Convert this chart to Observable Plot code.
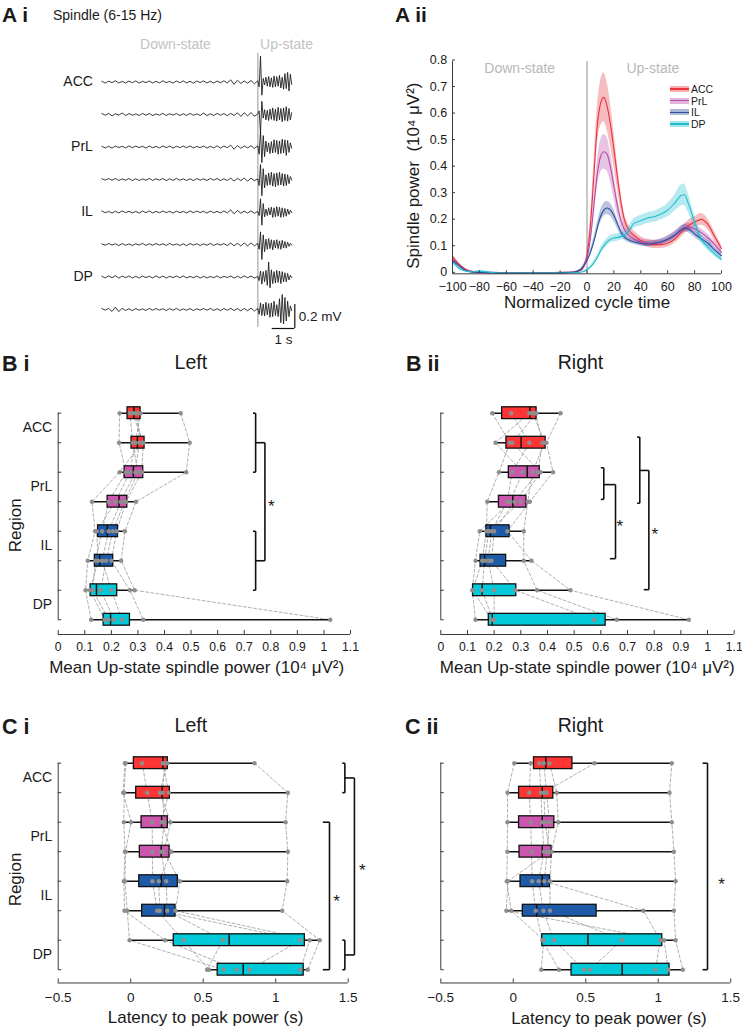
<!DOCTYPE html>
<html><head><meta charset="utf-8">
<script src="https://cdn.jsdelivr.net/npm/d3@7"></script>
<script src="https://cdn.jsdelivr.net/npm/@observablehq/plot@0.6"></script>
<style>
html,body{margin:0;padding:0;background:#fff;}
#fig{position:relative;width:742px;height:1030px;overflow:hidden;font-family:"Liberation Sans",Arial,sans-serif;color:#1a1a1a;}
.abs{position:absolute;white-space:nowrap;line-height:1;}
</style></head><body><div id="fig"></div>
<script>
// ================= DATA =================
// ---- A i: example spindle-band traces (µV), down-state then up-state samples ----
const traceRegions = ["ACC","ACC","PrL","PrL","IL","IL","DP","DP"];
const downStart = -6.9, downStep = 0.15, upStep = 0.06; // seconds
const down1 = [6,-9,7,-5,10,-8,5,-9,8,-6,9,-10,6,-5,8,-9,6,-8,10,-6,5,-9,8,-6,9,-8,6,-10,8,-5,9,-8,6,-9,8,-6,10,-8,18,-20,15,-12,9,-10,12,-15];
const down2 = [8,-6,9,-12,6,-5,13,-9,8,-6,5,-8,9,-6,8,-9,5,-6,9,-8,6,-5,8,-9,6,-8,9,-6,5,-8,12,-9,6,-8,9,-6,8,-10,9,-8,14,-16,15,-12,17,-14];
const down3 = [5,-8,6,-9,8,-5,6,-8,9,-6,8,-5,6,-9,8,-6,5,-8,9,-6,8,-9,6,-5,8,-6,9,-8,5,-6,8,-9,6,-8,10,-9,8,-6,16,-18,12,-11,9,-8,11,-12];
const down4 = [6,-5,8,-6,9,-8,5,-6,8,-9,6,-8,5,-6,9,-8,6,-5,8,-9,6,-8,9,-6,5,-8,6,-9,8,-6,5,-8,9,-6,8,-9,6,-8,11,-13,10,-9,12,-14,11,-10];
const down5 = [8,-6,5,-9,6,-8,9,-5,6,-8,5,-9,8,-6,9,-8,5,-6,8,-5,6,-9,8,-6,5,-8,9,-6,8,-5,6,-9,8,-6,5,-8,9,-8,18,-16,13,-11,8,-9,10,-11];
const down6 = [5,-6,8,-5,6,-9,8,-6,5,-8,6,-5,9,-8,6,-6,8,-5,6,-8,9,-6,5,-8,6,-9,8,-5,6,-8,5,-6,9,-8,6,-5,8,-9,12,-11,10,-12,13,-11,14,-12];
const down7 = [6,-8,9,-6,11,-10,8,-6,9,-8,6,-9,8,-5,6,-8,9,-6,8,-9,6,-5,8,-6,9,-8,5,-6,8,-9,6,-8,5,-6,9,-8,6,-5,8,-9,6,-8,9,-6,8,-9];
const down8 = [8,-6,9,-16,20,-18,11,-8,6,-9,8,-6,5,-8,9,-6,8,-5,6,-9,8,-6,9,-8,5,-6,8,-9,6,-5,8,-6,9,-8,6,-9,8,-6,10,-9,8,-11,9,-10,12,-13];
const up1 = [10,-40,215,-110,30,-25,40,-35,45,-40,35,-45,50,-40,45,-35,55,-50,40,-60,70,-55,80,-75,65,-20];
const up2 = [5,30,-150,110,-30,40,-45,35,-50,45,-40,55,-50,45,-55,60,-45,50,-60,55,-50,65,-55,50,-45,15];
const up3 = [10,-60,140,-130,95,-80,50,-40,35,-55,45,-50,60,-45,55,-60,50,-55,65,-50,60,-70,55,-45,35,-10];
const up4 = [5,-50,125,-135,90,-70,40,-50,55,-45,60,-55,50,-60,55,-50,60,-45,50,-55,45,-50,40,-35,25,-5];
const up5 = [5,-30,110,-110,70,-40,25,-30,35,-25,40,-45,35,-40,45,-35,40,-45,35,-40,30,-35,25,-20,15,-5];
const up6 = [10,-40,105,-125,80,-60,45,-40,50,-35,40,-45,35,-30,40,-35,30,-40,35,-30,25,-30,20,-15,10,-5];
const up7 = [5,-30,50,-60,45,-40,55,-70,125,-90,60,-55,45,-50,55,-45,50,-55,45,-40,35,-40,30,-25,15,-5];
const up8 = [10,-40,55,-50,45,-55,60,-45,50,-65,55,-60,70,-50,40,-60,90,-110,125,-120,100,-95,70,-60,30,-10];
const downTraces = [down1,down2,down3,down4,down5,down6,down7,down8];
const upTraces = [up1,up2,up3,up4,up5,up6,up7,up8];
const scaleBar = {seconds: 1, microvolts: 200};

// ---- A ii: spindle power across normalized cycle (10^4 µV^2), mean ± SEM ----
const cycleX = [-100,-95,-90,-85,-80,-70,-60,-50,-40,-30,-20,-10,-5,-2.5,0,2.5,5,7.5,10,12.5,15,17.5,20,22.5,25,27.5,30,35,40,45,50,55,60,65,70,72.5,75,80,85,90,95,100];
const accMean = [0.065,0.035,0.016,0.008,0.005,0.004,0.003,0.003,0.003,0.003,0.004,0.006,0.012,0.025,0.07,0.18,0.36,0.55,0.64,0.665,0.63,0.56,0.47,0.37,0.28,0.21,0.175,0.145,0.125,0.115,0.11,0.11,0.115,0.13,0.155,0.168,0.18,0.195,0.205,0.185,0.14,0.095];
const accSem  = [0.008,0.006,0.004,0.002,0.002,0.002,0.002,0.002,0.002,0.002,0.002,0.002,0.003,0.005,0.012,0.03,0.05,0.07,0.085,0.092,0.09,0.08,0.065,0.05,0.035,0.025,0.02,0.017,0.015,0.015,0.015,0.015,0.015,0.016,0.018,0.018,0.02,0.02,0.022,0.02,0.017,0.012];
const prlMean = [0.055,0.03,0.013,0.006,0.005,0.004,0.003,0.003,0.003,0.003,0.004,0.006,0.014,0.028,0.06,0.13,0.25,0.37,0.44,0.46,0.45,0.4,0.33,0.26,0.205,0.17,0.15,0.13,0.12,0.115,0.115,0.12,0.13,0.145,0.165,0.172,0.175,0.17,0.155,0.135,0.11,0.08];
const prlSem  = [0.006,0.005,0.003,0.002,0.002,0.002,0.002,0.002,0.002,0.002,0.002,0.002,0.003,0.005,0.01,0.02,0.035,0.05,0.06,0.065,0.063,0.055,0.045,0.035,0.025,0.02,0.015,0.013,0.012,0.012,0.012,0.012,0.013,0.014,0.015,0.016,0.016,0.016,0.015,0.014,0.012,0.01];
const ilMean  = [0.05,0.03,0.012,0.006,0.005,0.004,0.003,0.003,0.003,0.003,0.004,0.006,0.015,0.03,0.05,0.08,0.12,0.17,0.215,0.24,0.248,0.24,0.22,0.19,0.16,0.14,0.13,0.12,0.115,0.112,0.115,0.12,0.13,0.145,0.165,0.172,0.17,0.15,0.132,0.115,0.09,0.068];
const ilSem   = [0.006,0.005,0.003,0.002,0.002,0.002,0.002,0.002,0.002,0.002,0.002,0.002,0.003,0.005,0.008,0.012,0.015,0.02,0.023,0.025,0.025,0.024,0.022,0.018,0.015,0.012,0.01,0.01,0.01,0.01,0.01,0.01,0.011,0.012,0.013,0.014,0.014,0.013,0.012,0.011,0.01,0.008];
const dpMean  = [0.045,0.02,0.01,0.007,0.01,0.005,0.003,0.003,0.003,0.003,0.003,0.004,0.006,0.009,0.015,0.025,0.04,0.06,0.085,0.105,0.12,0.13,0.135,0.137,0.14,0.145,0.155,0.19,0.2,0.21,0.215,0.225,0.24,0.265,0.295,0.298,0.27,0.195,0.13,0.1,0.075,0.055];
const dpSem   = [0.005,0.004,0.003,0.003,0.003,0.002,0.002,0.002,0.002,0.002,0.002,0.002,0.002,0.003,0.004,0.006,0.008,0.01,0.012,0.013,0.014,0.014,0.014,0.014,0.014,0.015,0.016,0.018,0.02,0.02,0.021,0.022,0.025,0.03,0.04,0.04,0.035,0.025,0.015,0.012,0.01,0.008];
const xTicksA = [-100,-80,-60,-40,-20,0,20,40,60,80,100];
const yTicksA = [0,0.1,0.2,0.3,0.4,0.5,0.6,0.7,0.8];

// ---- B / C: rows (two recording sites per region), box stats [min,q1,median,q3,max] ----
const rowRegions = ["ACC","ACC","PrL","PrL","IL","IL","DP","DP"];
const boxBi  = [[0.231,0.261,0.285,0.310,0.461],[0.229,0.276,0.298,0.325,0.495],[0.231,0.250,0.283,0.320,0.482],[0.127,0.186,0.229,0.260,0.293],[0.139,0.150,0.185,0.225,0.251],[0.111,0.138,0.156,0.207,0.237],[0.103,0.122,0.144,0.222,0.288],[0.124,0.171,0.197,0.270,1.024]];
const boxBii = [[0.193,0.230,0.334,0.359,0.449],[0.205,0.246,0.301,0.393,0.396],[0.218,0.255,0.324,0.371,0.421],[0.174,0.218,0.270,0.321,0.334],[0.146,0.171,0.186,0.258,0.311],[0.130,0.149,0.164,0.245,0.340],[0.118,0.121,0.155,0.283,0.486],[0.130,0.180,0.193,0.618,0.930]];
const boxCi  = [[-0.040,0.022,0.222,0.256,0.854],[-0.052,0.038,0.217,0.270,1.084],[-0.047,0.075,0.213,0.256,1.068],[-0.040,0.063,0.210,0.268,1.084],[-0.047,0.059,0.210,0.325,1.079],[-0.043,0.079,0.233,0.309,1.045],[-0.008,0.297,0.679,1.201,1.304],[0.527,0.600,0.776,1.193,1.221]];
const boxCii = [[0.007,0.143,0.224,0.408,1.094],[-0.040,0.040,0.200,0.276,1.078],[-0.040,0.040,0.200,0.283,1.094],[-0.041,0.043,0.200,0.264,1.108],[-0.037,0.050,0.200,0.253,1.120],[-0.048,0.066,0.161,0.575,1.108],[0.200,0.200,0.515,1.028,1.120],[0.193,0.402,0.751,1.078,1.170]];
// individual animals (same animal = same column)
const animBi  = [[0.231,0.29,0.27,0.31,0.28,0.30,0.461],[0.229,0.315,0.28,0.29,0.32,0.305,0.495],[0.255,0.231,0.30,0.27,0.315,0.29,0.482],[0.19,0.127,0.25,0.215,0.255,0.235,0.293],[0.165,0.139,0.205,0.145,0.22,0.19,0.251],[0.14,0.111,0.18,0.15,0.2,0.165,0.237],[0.13,0.103,0.16,0.12,0.27,0.2,0.288],[0.19,0.124,0.21,0.175,0.32,0.24,1.024]];
const animBii = [[0.193,0.332,0.264,0.359,0.345,0.355,0.449],[0.259,0.205,0.332,0.268,0.39,0.381,0.396],[0.218,0.306,0.268,0.374,0.343,0.364,0.421],[0.174,0.26,0.249,0.299,0.326,0.276,0.334],[0.171,0.146,0.19,0.18,0.311,0.2,0.25],[0.155,0.13,0.178,0.164,0.311,0.19,0.34],[0.12,0.118,0.2,0.155,0.361,0.28,0.486],[0.19,0.13,0.2,0.195,0.66,0.574,0.93]];
const animCi  = [[-0.04,0.079,-0.035,0.233,0.222,0.252,0.854],[-0.052,0.114,-0.045,0.22,0.263,0.201,1.084],[0.003,0.148,-0.047,0.23,0.213,0.275,1.068],[-0.035,0.15,-0.04,0.21,0.28,0.23,1.084],[-0.04,0.15,-0.047,0.245,0.194,0.339,1.079],[-0.024,0.183,-0.043,0.252,0.2,0.309,1.045],[-0.008,0.362,0.236,0.636,1.171,1.235,1.304],[0.64,0.54,0.73,0.527,0.82,1.17,1.221]];
const animCii = [[0.007,0.18,0.12,0.25,0.21,0.56,1.094],[-0.04,0.19,0.11,0.3,0.23,0.21,1.078],[-0.04,0.2,0.12,0.31,0.25,0.22,1.094],[-0.041,0.211,0.126,0.264,0.234,0.25,1.108],[-0.045,0.175,0.13,0.253,0.214,-0.037,1.12],[-0.014,0.208,0.155,0.253,0.897,-0.048,1.108],[0.21,0.28,0.2,0.749,1.014,1.04,1.12],[0.193,0.487,0.315,0.528,0.981,1.07,1.17]];
const xTicksB = [0,0.1,0.2,0.3,0.4,0.5,0.6,0.7,0.8,0.9,1,1.1];
const xTicksC = [-0.5,0,0.5,1,1.5];
// significance brackets: vertical at x from row `from` to row `to`, end ticks starting at tickFrom/tickTo
const bracketsBi  = [{x:0.743,from:0,to:2,tickFrom:0.733,tickTo:0.733},{x:0.743,from:4,to:6,tickFrom:0.733,tickTo:0.733},{x:0.778,from:1,to:5,tickFrom:0.743,tickTo:0.743}];
const starsBi     = [{x:0.802,y:3.02}];
const bracketsBii = [{x:0.611,from:1.85,to:2.92,tickFrom:0.6,tickTo:0.6},{x:0.655,from:2.42,to:4.93,tickFrom:0.611,tickTo:0.634},{x:0.746,from:0.81,to:3.05,tickFrom:0.736,tickTo:0.736},{x:0.78,from:1.94,to:5.98,tickFrom:0.746,tickTo:0.761}];
const starsBii    = [{x:0.671,y:3.69},{x:0.802,y:3.97}];
const bracketsCi  = [{x:1.477,from:0,to:1,tickFrom:1.459,tickTo:1.459},{x:1.477,from:6,to:7,tickFrom:1.459,tickTo:1.459},{x:1.543,from:0.5,to:6.5,tickFrom:1.477,tickTo:1.477},{x:1.371,from:2,to:7,tickFrom:1.325,tickTo:1.325}];
const starsCi     = [{x:1.597,y:3.52},{x:1.419,y:4.54}];
const bracketsCii = [{x:1.34,from:0,to:7,tickFrom:1.306,tickTo:1.306}];
const starsCii    = [{x:1.437,y:3.98}];

// ================= STYLE / LAYOUT =================
const fig = document.getElementById("fig");
const FONT = '"Liberation Sans", Arial, sans-serif';
const baseStyle = {fontFamily: FONT, fontSize: "13px", color: "#1a1a1a", background: "transparent", overflow: "visible"};
const lineColors = {ACC: "#e8333c", PrL: "#b84caa", IL: "#2c4f9f", DP: "#20bfd0"};
const boxColors  = {ACC: "#ff3535", PrL: "#cc55ad", IL: "#1d5aa8", DP: "#00c9d9"};
const axisColor = "#3a3a3a";
const fmt = d3.format("~g");

function place(el, left, top) {
  el.style.position = "absolute"; el.style.left = left + "px"; el.style.top = top + "px";
  fig.appendChild(el);
}
function addText(str, x, baseline, size, {weight = "normal", anchor = "start", color = "#1a1a1a", lh = 1} = {}) {
  const d = document.createElement("div");
  d.className = "abs"; d.textContent = str;
  d.style.fontSize = size + "px"; d.style.fontWeight = weight; d.style.color = color;
  d.style.lineHeight = String(lh);
  d.style.top = (baseline - (0.905 + (lh - 1.117) / 2) * size) + "px";
  d.style.left = x + "px";
  if (anchor === "middle") d.style.transform = "translateX(-50%)";
  fig.appendChild(d);
}

// ================= A i =================
{
  const L = {left: 0, top: 0, w: 380, h: 345, x0: 257.3, pxPerS: 22.6, base0: 81.5, gap: 32.5, pxPerUV: 0.12};
  const uvGap = L.gap / L.pxPerUV;
  const toUV = py => (L.base0 - py) / L.pxPerUV;
  const toT = px => (px - L.x0) / L.pxPerS;
  const tDom = [-7, 2];
  const pts = [];
  downTraces.forEach((tr, i) => {
    tr.forEach((v, k) => pts.push({i, t: downStart + k * downStep, y: v - i * uvGap}));
    upTraces[i].forEach((v, k) => pts.push({i, t: k * upStep, y: v - i * uvGap}));
  });
  const labels = traceRegions.map((name, i) => ({name, i})).filter((d, i) => i === 0 || traceRegions[i - 1] !== d.name);
  const states = [{text: "Down-state", t: toT(175)}, {text: "Up-state", t: toT(286)}];
  const barT = toT(294.3), barY = toUV(328);
  const svg = Plot.plot({
    width: L.w, height: L.h,
    marginLeft: L.x0 + tDom[0] * L.pxPerS, marginRight: L.w - (L.x0 + tDom[1] * L.pxPerS),
    marginTop: 0, marginBottom: 0,
    x: {domain: tDom, axis: null}, y: {domain: [toUV(L.h), toUV(0)], axis: null},
    style: baseStyle,
    marks: [
      Plot.ruleX([0], {y1: toUV(53), y2: toUV(327), stroke: "#bdbdbd", strokeWidth: 1.6}),
      Plot.line(pts, {x: "t", y: "y", z: "i", stroke: "#161616", strokeWidth: 0.85}),
      Plot.text(labels, {x: () => downStart, y: d => -d.i * uvGap, text: "name", textAnchor: "end", dx: -9, fontSize: 14}),
      Plot.text(states, {x: "t", y: () => toUV(44), text: "text", fill: "#c2c2c2", fontSize: 14}),
      Plot.ruleX([barT], {y1: barY, y2: barY + scaleBar.microvolts, stroke: "#111", strokeWidth: 1.2}),
      Plot.ruleY([barY], {x1: barT - scaleBar.seconds, x2: barT, stroke: "#111", strokeWidth: 1.2}),
      Plot.text([`${scaleBar.microvolts / 1000} mV`], {x: [barT], y: [barY + scaleBar.microvolts / 2], dx: 4, textAnchor: "start", fontSize: 13.5}),
      Plot.text([`${scaleBar.seconds} s`], {x: [barT - scaleBar.seconds / 2], y: [barY], dy: 11, fontSize: 13.5})
    ]
  });
  place(svg, L.left, L.top);
}

// ================= A ii =================
{
  const series = [
    {name: "ACC", mean: accMean, sem: accSem},
    {name: "PrL", mean: prlMean, sem: prlSem},
    {name: "IL", mean: ilMean, sem: ilSem},
    {name: "DP", mean: dpMean, sem: dpSem}
  ];
  const data = series.flatMap(s => cycleX.map((x, k) => ({name: s.name, x, y: s.mean[k], lo: Math.max(0, s.mean[k] - s.sem[k]), hi: s.mean[k] + s.sem[k]})));
  const svg = Plot.plot({
    width: 362, height: 280, marginLeft: 72, marginRight: 21, marginTop: 21, marginBottom: 46.7,
    x: {domain: [-100, 100]}, y: {domain: [0, 0.8]},
    color: {type: "identity"},
    style: baseStyle,
    marks: [
      Plot.ruleX([0], {stroke: "#b5b5b5", strokeWidth: 1.5}),
      Plot.areaY(data, {x: "x", y1: "lo", y2: "hi", z: "name", fill: d => lineColors[d.name], fillOpacity: 0.33, curve: "monotone-x"}),
      Plot.line(data, {x: "x", y: "y", z: "name", stroke: d => lineColors[d.name], strokeWidth: 1.1, curve: "monotone-x"}),
      Plot.ruleX([-100], {stroke: axisColor}),
      Plot.ruleY([0], {stroke: axisColor}),
      Plot.axisX({ticks: xTicksA, tickSize: -3, tickPadding: 11, tickFormat: fmt, fontSize: 12.5, label: null, stroke: axisColor}),
      Plot.axisY({ticks: yTicksA, tickSize: -3, tickPadding: 8.3, dy: -1.5, tickFormat: fmt, fontSize: 12.5, label: null, stroke: axisColor}),
      Plot.text(["Normalized cycle time"], {frameAnchor: "bottom", lineAnchor: "middle", dy: 29, fontSize: 17}),
      Plot.text(["Spindle power  (10⁴ μV²)"], {frameAnchor: "left", textAnchor: "middle", lineAnchor: "middle", dx: -39, dy: 8, rotate: -90, fontSize: 17}),
      Plot.text([{t: "Down-state", x: -50}, {t: "Up-state", x: 49}], {x: "x", y: () => 0.774, text: "t", fill: "#b8b8b8", fontSize: 14})
    ]
  });
  place(svg, 380, 40);
  // legend
  const legendRows = [88.8, 100.6, 112.4, 124.2];
  series.forEach((s, i) => {
    const sw = document.createElement("div");
    sw.className = "abs";
    Object.assign(sw.style, {left: "670px", top: (legendRows[i] - 3) + "px", width: "19px", height: "6px", background: lineColors[s.name], opacity: 0.4});
    fig.appendChild(sw);
    const ln = document.createElement("div");
    ln.className = "abs";
    Object.assign(ln.style, {left: "670px", top: (legendRows[i] - 0.8) + "px", width: "19px", height: "1.6px", background: lineColors[s.name]});
    fig.appendChild(ln);
    addText(s.name, 691, legendRows[i] + 3.9, 10.5, {lh: 1});
  });
}

// ================= B / C box panels =================
function boxPanel(cfg) {
  const rows = cfg.box.map((b, r) => ({r, region: rowRegions[r], min: b[0], q1: b[1], med: b[2], q3: b[3], max: b[4]}));
  const pts = cfg.animals.flatMap((vals, r) => vals.map((v, a) => ({r, a, v})));
  const segs = cfg.brackets.flatMap(b => [
    {x1: b.x, x2: b.x, y1: b.from, y2: b.to},
    {x1: b.tickFrom, x2: b.x, y1: b.from, y2: b.from},
    {x1: b.tickTo, x2: b.x, y1: b.to, y2: b.to}
  ]);
  const H = 0.2;
  const yDomain = [-1, cfg.yBottom];
  const marks = [
    Plot.line(pts, {x: "v", y: "r", z: "a", stroke: "#9c9c9c", strokeWidth: 0.8, strokeDasharray: "3,2.2"}),
    Plot.ruleY(rows, {y: "r", x1: "min", x2: "max", stroke: "#111", strokeWidth: 1.5}),
    Plot.rect(rows, {x1: "q1", x2: "q3", y1: d => d.r - H, y2: d => d.r + H, fill: d => boxColors[d.region], stroke: "#111", strokeWidth: 1.3}),
    Plot.ruleX(rows, {x: "med", y1: d => d.r - H, y2: d => d.r + H, stroke: "#111", strokeWidth: 1.5}),
    Plot.dot(pts, {x: "v", y: "r", r: 2.2, fill: "#8e8e8e"}),
    Plot.ruleX([cfg.xDomain[0]], {y1: 0, y2: rows.length - 1, stroke: axisColor}),
    Plot.ruleY([cfg.yBottom], {stroke: axisColor}),
    Plot.axisY({ticks: rows.map(d => d.r), tickSize: -3.5, tickFormat: () => "", label: null, stroke: axisColor}),
    Plot.axisX({ticks: cfg.xTicks, tickSize: -4, tickPadding: cfg.tickPad, tickFormat: fmt, fontSize: cfg.tickFont, label: null, stroke: axisColor}),
    Plot.link(segs, {x1: "x1", x2: "x2", y1: "y1", y2: "y2", stroke: "#111", strokeWidth: 1.6}),
    Plot.text(cfg.stars, {x: "x", y: "y", text: () => "*", fontSize: 17, dy: 4}),
    Plot.text([cfg.xLabel], {x: [cfg.xLabelX], frameAnchor: "bottom", lineAnchor: "middle", dy: cfg.xLabelDy, fontSize: 17})
  ];
  if (cfg.labels) {
    const regs = Array.from(d3.group(rows, d => d.region), ([name, rs]) => ({name, r: d3.mean(rs, d => d.r)}));
    marks.push(Plot.text(regs, {x: () => cfg.xDomain[0], y: "r", text: "name", textAnchor: "end", dx: -6, fontSize: 14}));
    marks.push(Plot.text(["Region"], {y: [cfg.regionY], frameAnchor: "left", textAnchor: "middle", lineAnchor: "middle", dx: -42.7, rotate: -90, fontSize: 17}));
  }
  const svg = Plot.plot({
    width: cfg.width, height: cfg.height,
    marginLeft: cfg.x0px - cfg.left, marginRight: cfg.left + cfg.width - cfg.x1px,
    marginTop: (cfg.row0 - cfg.rowStep) - cfg.top,
    marginBottom: cfg.top + cfg.height - (cfg.row0 + cfg.yBottom * cfg.rowStep),
    x: {domain: cfg.xDomain}, y: {domain: yDomain, reverse: true},
    color: {type: "identity"},
    style: baseStyle,
    marks
  });
  place(svg, cfg.left, cfg.top);
}

const labelB = "Mean Up-state spindle power (10⁴ μV²)";
const labelC = "Latency to peak power (s)";
boxPanel({left: 0, top: 380, width: 371, height: 300, x0px: 57.7, x1px: 350, xDomain: [0, 1.1], row0: 412.7, rowStep: 29.51, yBottom: 7.5,
  box: boxBi, animals: animBi, xTicks: xTicksB, tickPad: 11.9, tickFont: 12.2, labels: true, regionY: 3.8, xLabel: labelB, xLabelX: 0.521, xLabelDy: 33, brackets: bracketsBi, stars: starsBi});
boxPanel({left: 371, top: 380, width: 371, height: 300, x0px: 440.3, x1px: 733.7, xDomain: [0, 1.1], row0: 412.7, rowStep: 29.51, yBottom: 7.5,
  box: boxBii, animals: animBii, xTicks: xTicksB, tickPad: 11.9, tickFont: 12.2, labels: false, xLabel: labelB, xLabelX: 0.549, xLabelDy: 33, brackets: bracketsBii, stars: starsBii});
boxPanel({left: 0, top: 730, width: 371, height: 300, x0px: 57.7, x1px: 347.7, xDomain: [-0.5, 1.5], row0: 762.7, rowStep: 29.5, yBottom: 7.45,
  box: boxCi, animals: animCi, xTicks: xTicksC, tickPad: 13.4, tickFont: 13.5, labels: true, regionY: 3.94, xLabel: labelC, xLabelX: 0.516, xLabelDy: 34.2, brackets: bracketsCi, stars: starsCi});
boxPanel({left: 371, top: 730, width: 371, height: 300, x0px: 440.3, x1px: 730.2, xDomain: [-0.5, 1.5], row0: 762.7, rowStep: 29.5, yBottom: 7.45,
  box: boxCii, animals: animCii, xTicks: xTicksC, tickPad: 13.4, tickFont: 13.5, labels: false, xLabel: labelC, xLabelX: 0.66, xLabelDy: 35.8, brackets: bracketsCii, stars: starsCii});

// ================= Panel titles =================
addText("A i", 2, 21.7, 21, {weight: "bold"});
addText("Spindle (6-15 Hz)", 53, 19.8, 14);
addText("A ii", 395, 21.7, 21, {weight: "bold"});
addText("B i", 2, 371.7, 21.5, {weight: "bold"});
addText("Left", 190.8, 370, 19.5, {anchor: "middle"});
addText("B ii", 406, 371.7, 21.5, {weight: "bold"});
addText("Right", 580.5, 370, 19.5, {anchor: "middle"});
addText("C i", 2, 735, 21.5, {weight: "bold"});
addText("Left", 190.8, 732.7, 19.5, {anchor: "middle"});
addText("C ii", 405, 735, 21.5, {weight: "bold"});
addText("Right", 580.5, 732.7, 19.5, {anchor: "middle"});
</script></body></html>
